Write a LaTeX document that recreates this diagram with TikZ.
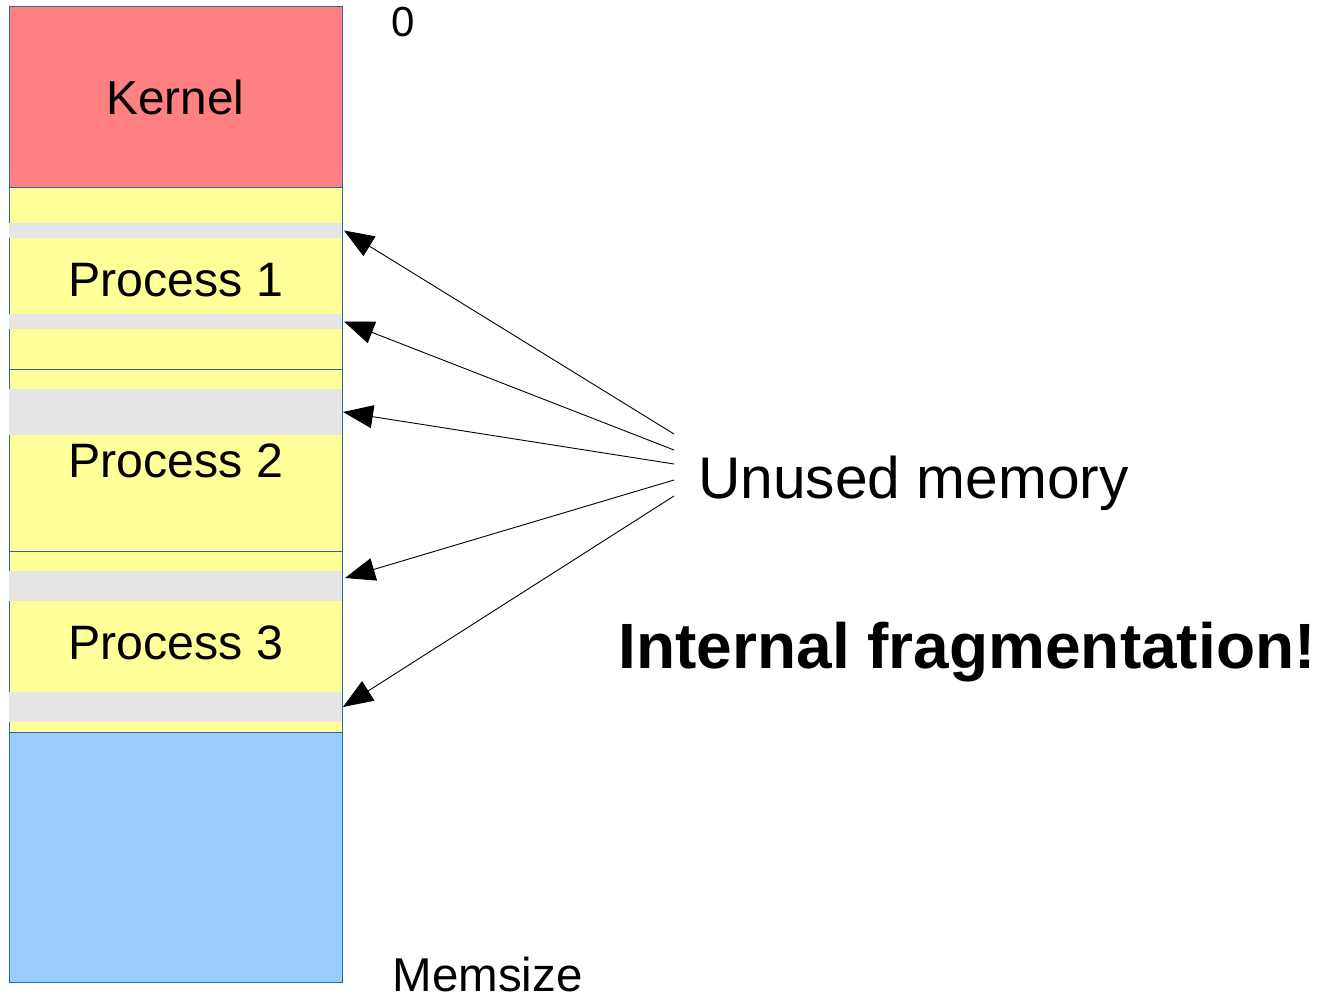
\documentclass[tikz,border=0pt]{standalone}
\usepackage{fontspec}
\setmainfont{Liberation Sans}
\usetikzlibrary{arrows.meta}
\definecolor{kernelred}{HTML}{FF8080}
\definecolor{procyellow}{HTML}{FFFF99}
\definecolor{unusedgrey}{HTML}{E6E6E6}
\definecolor{freeblue}{HTML}{99CCFF}
\definecolor{edgeblue}{HTML}{3465A4}

\begin{document}
\begin{tikzpicture}[x=1pt,y=-1pt,
  block/.style={draw=edgeblue, line width=1pt, anchor=north west, inner sep=0pt,
                outer sep=0pt, minimum width=333pt},
  band/.style={fill=unusedgrey, anchor=north west, inner sep=0pt, outer sep=0pt,
               minimum width=333pt},
  lbl/.style={anchor=base, inner sep=0pt, font=\fontsize{48.3}{50}\selectfont},
  side/.style={anchor=base west, inner sep=0pt},
  pointer/.style={-{Triangle[length=30pt,width=23pt]}, line width=0.9pt}]

\useasboundingbox (0,0) rectangle (1328,995);

% memory column
\node[block, fill=kernelred,  minimum height=181pt] (kernel) at (9,7)   {};
\node[block, fill=procyellow, minimum height=181pt] (p1)     at (9,188) {};
\node[block, fill=procyellow, minimum height=182pt] (p2)     at (9,369) {};
\node[block, fill=procyellow, minimum height=181pt] (p3)     at (9,551) {};
\node[block, fill=freeblue,   minimum height=250pt] (free)   at (9,732) {};

% unused parts of the partitions
\node[band, minimum height=15pt] (b1) at (9,223) {};
\node[band, minimum height=15pt] (b2) at (9,314) {};
\node[band, minimum height=46pt] (b3) at (9,389) {};
\node[band, minimum height=30pt] (b4) at (9,571) {};
\node[band, minimum height=30pt] (b5) at (9,692) {};

% block labels
\node[lbl, font=\fontsize{47.7}{50}\selectfont] (tk) at (175.5,115) {Kernel};
\node[lbl] (tp1) at (176,296) {Process 1};
\node[lbl] (tp2) at (176,477) {Process 2};
\node[lbl] (tp3) at (176,659) {Process 3};

% addresses
\node[side, font=\fontsize{42}{44}\selectfont] (zero) at (391,37) {0};
\node[side, font=\fontsize{47.5}{50}\selectfont] (mems) at (392.5,991) {Memsize};

% annotations
\node[side, font=\fontsize{58.7}{60}\selectfont] (unused) at (698,498) {Unused memory};
\node[side, font=\fontsize{64}{66}\selectfont\bfseries] (frag) at (618.5,668) {Internal fragmentation!};

% pointer origins beside the annotation
\coordinate (s1) at (674,434);
\coordinate (s2) at (674,450);
\coordinate (s3) at (674,464);
\coordinate (s4) at (674,480);
\coordinate (s5) at (674,496);

\draw[pointer] (s1) -- ([xshift=2pt]b1.east);
\draw[pointer] (s2) -- ([xshift=2pt]b2.east);
\draw[pointer] (s3) -- ([xshift=1pt]b3.east);
\draw[pointer] (s4) -- ([xshift=3pt,yshift=-7pt]b4.north east);
\draw[pointer] (s5) -- ([xshift=1pt]b5.east);
\end{tikzpicture}
\end{document}
